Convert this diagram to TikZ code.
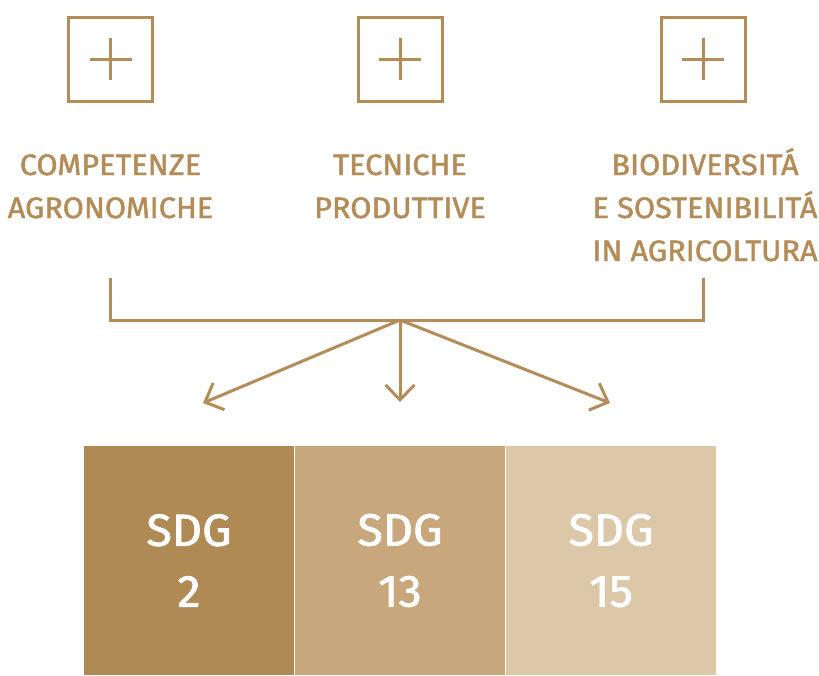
\documentclass[tikz,border=0pt]{standalone}
\usepackage{fontspec}
\setmainfont{Fira Sans}
\newfontfamily\labelfont{Fira Sans}[FakeBold=1.6, FakeStretch=1.04]
\usetikzlibrary{arrows.meta}
\definecolor{gold}{HTML}{B38C58}
\definecolor{sdgA}{HTML}{B08A55}
\definecolor{sdgB}{HTML}{C9A77C}
\definecolor{sdgC}{HTML}{DDC7A9}
\tikzset{
  plusbox/.style={draw=gold, line width=3pt, minimum size=84pt, inner sep=0pt,
    path picture={
      \draw[gold, line width=3pt]
        ([xshift=-21pt]path picture bounding box.center) -- ([xshift=21pt]path picture bounding box.center)
        ([yshift=-21pt]path picture bounding box.center) -- ([yshift=21pt]path picture bounding box.center);
    }},
  label/.style={text=gold, font=\labelfont\fontsize{29.5}{43}\selectfont, align=center, anchor=base, inner sep=0pt},
  sdgbox/.style={minimum width=210pt, minimum height=229pt, inner sep=0pt, text=white,
    font=\labelfont\fontsize{45}{61}\selectfont, align=center},
  link/.style={draw=gold, line width=3pt},
  arr/.style={link, -{Straight Barb[length=15pt, width=29pt, line width=3pt]}}
}
\begin{document}
\begin{tikzpicture}[x=1pt, y=-1pt]
  \useasboundingbox (0,0) rectangle (819,675);

  % expand buttons
  \node[plusbox] (p1) at (110.5,59) {};
  \node[plusbox] (p2) at (400,59) {};
  \node[plusbox] (p3) at (703,59) {};

  % topic labels (anchored on the baseline of their last line)
  \node[label] (t1) at (110.5,218) {COMPETENZE\\AGRONOMICHE};
  \node[label] (t2) at (400,218) {TECNICHE\\PRODUTTIVE};
  \node[label] (t3) at (705,261) {BIODIVERSITÁ\\E SOSTENIBILITÁ\\IN AGRICOLTURA};

  % bracket joining the three topics
  \coordinate (bl) at (110,278);
  \coordinate (br) at (703,278);
  \coordinate (hub) at (400,320);
  \draw[link] (bl) |- (hub) -| (br);

  % SDG blocks
  \node[sdgbox, fill=sdgA] (s1) at (189,560.5) {SDG\\2};
  \node[sdgbox, fill=sdgB] (s2) at (400,560.5) {SDG\\13};
  \node[sdgbox, fill=sdgC] (s3) at (611,560.5) {SDG\\15};

  % arrows from the bracket towards the blocks
  \coordinate (a1) at (203,403);
  \coordinate (a2) at (400,402);
  \coordinate (a3) at (610,403);
  \draw[arr] (hub) -- (a1);
  \draw[arr] (hub) -- (a2);
  \draw[arr] (hub) -- (a3);
\end{tikzpicture}
\end{document}
